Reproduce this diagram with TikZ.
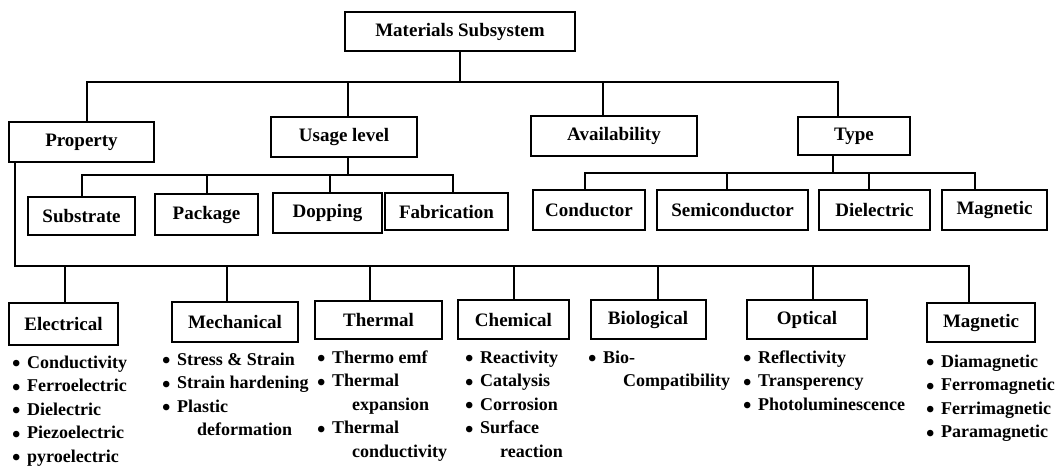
\documentclass[tikz,border=0pt]{standalone}
\usepackage{fontspec}
\setmainfont{Liberation Serif}
\usetikzlibrary{calc}

% text of the bullet lists
\newcommand\listfont{\fontsize{18}{20}\selectfont\bfseries\def\arraystretch{1.175}}
\newcommand\bitem[1]{\makebox[15pt][l]{\raisebox{-3.8pt}{\fontsize{24}{20}\selectfont\textbullet}}#1}
\newcommand\bcont[1]{\hspace{35pt}#1}
\newcommand\itemlist[1]{\begin{tabular}[t]{@{}l@{}}#1\end{tabular}}

\begin{document}
\begin{tikzpicture}[x=1pt,y=-1pt,
  box/.style={draw, line width=2pt, inner sep=0pt, font=\fontsize{19}{22}\selectfont\bfseries},
  conn/.style={line width=2pt},
  listtext/.style={inner sep=0pt, anchor=base west, font=\listfont}]

\useasboundingbox (0,0) rectangle (1060,469);

% top level
\node[box, minimum width=230pt, minimum height=39pt] (root) at (460,31.5) {Materials Subsystem};

\node[box, minimum width=145pt, minimum height=40pt] (prop)  at (81.5,142) {Property};
\node[box, minimum width=146pt, minimum height=40pt] (usage) at (344,137)  {Usage level};
\node[box, minimum width=166pt, minimum height=40pt] (avail) at (614,136)  {Availability};
\node[box, minimum width=112pt, minimum height=38pt] (type)  at (854,136)  {Type};

% usage levels
\node[box, minimum width=107pt, minimum height=38pt] (sub)  at (81.5,216)  {Substrate};
\node[box, minimum width=103pt, minimum height=41pt] (pack) at (206.5,214.5) {Package};
\node[box, minimum width=109pt, minimum height=40pt] (dop)  at (327.5,213) {Dopping};
\node[box, minimum width=123pt, minimum height=37pt] (fab)  at (446.5,211.5) {Fabrication};

% material types
\node[box, minimum width=112pt, minimum height=40pt] (cond) at (589,210)   {Conductor};
\node[box, minimum width=151pt, minimum height=40pt] (semi) at (732.5,210) {Semiconductor};
\node[box, minimum width=111pt, minimum height=40pt] (diel) at (874.5,210) {Dielectric};
\node[box, minimum width=105pt, minimum height=40pt] (tmag) at (994.5,210) {Magnetic};

% properties
\node[box, minimum width=109pt, minimum height=42pt] (elec)  at (63.5,324)  {Electrical};
\node[box, minimum width=126pt, minimum height=40pt] (mech)  at (235,322)   {Mechanical};
\node[box, minimum width=127pt, minimum height=38pt] (therm) at (378.5,320) {Thermal};
\node[box, minimum width=111pt, minimum height=39pt] (chem)  at (513.5,319.5) {Chemical};
\node[box, minimum width=115pt, minimum height=39pt] (bio)   at (648,319.5) {Biological};
\node[box, minimum width=120pt, minimum height=39pt] (opt)   at (807,319.5) {Optical};
\node[box, minimum width=108pt, minimum height=39pt] (pmag)  at (981,322.5) {Magnetic};

% bus lines
\coordinate (busA) at (0,82);
\coordinate (busB) at (0,175);
\coordinate (busC) at (0,173);
\coordinate (busD) at (0,266);

% root to first level
\draw[conn] (root.south) -- (root.south |- busA);
\draw[conn] ([xshift=5.5pt]prop.north) |- ([xshift=-16pt]type.north |- busA) -- ([xshift=-16pt]type.north);
\draw[conn] ([xshift=4pt]usage.north) -- ([xshift=4pt]usage.north |- busA);
\draw[conn] ([xshift=-11pt]avail.north) -- ([xshift=-11pt]avail.north |- busA);

% usage level branch
\draw[conn] ([xshift=4pt]usage.south) -- ([xshift=4pt]usage.south |- busB);
\draw[conn] (sub.north) |- ([xshift=6.5pt]fab.north |- busB) -- ([xshift=6.5pt]fab.north);
\draw[conn] (pack.north) -- (pack.north |- busB);
\draw[conn] ([xshift=2.5pt]dop.north) -- ([xshift=2.5pt]dop.north |- busB);

% type branch
\draw[conn] ([xshift=-21pt]type.south) -- ([xshift=-21pt]type.south |- busC);
\draw[conn] ([xshift=-4pt]cond.north) |- ([xshift=-19.5pt]tmag.north |- busC) -- ([xshift=-19.5pt]tmag.north);
\draw[conn] ([xshift=-5.5pt]semi.north) -- ([xshift=-5.5pt]semi.north |- busC);
\draw[conn] ([xshift=-5.5pt]diel.north) -- ([xshift=-5.5pt]diel.north |- busC);

% property branch
\draw[conn] ([xshift=7pt]prop.south west) |- ([xshift=-12pt]pmag.north |- busD) -- ([xshift=-12pt]pmag.north);
\draw[conn] ([xshift=1.5pt]elec.north) -- ([xshift=1.5pt]elec.north |- busD);
\draw[conn] ([xshift=-8pt]mech.north) -- ([xshift=-8pt]mech.north |- busD);
\draw[conn] ([xshift=-8.5pt]therm.north) -- ([xshift=-8.5pt]therm.north |- busD);
\draw[conn] ([xshift=0.5pt]chem.north) -- ([xshift=0.5pt]chem.north |- busD);
\draw[conn] ([xshift=10pt]bio.north) -- ([xshift=10pt]bio.north |- busD);
\draw[conn] ([xshift=6pt]opt.north) -- ([xshift=6pt]opt.north |- busD);

% property details
\node[listtext] (elecl) at (12,368) {\itemlist{\bitem{Conductivity}\\ \bitem{Ferroelectric}\\ \bitem{Dielectric}\\ \bitem{Piezoelectric}\\ \bitem{pyroelectric}}};
\node[listtext] (mechl) at (162,365) {\itemlist{\bitem{Stress \& Strain}\\ \bitem{Strain hardening}\\ \bitem{Plastic}\\ \bcont{deformation}}};
\node[listtext] (therml) at (317,363) {\itemlist{\bitem{Thermo emf}\\ \bitem{Thermal}\\ \bcont{expansion}\\ \bitem{Thermal}\\ \bcont{conductivity}}};
\node[listtext] (cheml) at (465,363) {\itemlist{\bitem{Reactivity}\\ \bitem{Catalysis}\\ \bitem{Corrosion}\\ \bitem{Surface}\\ \bcont{reaction}}};
\node[listtext] (biol) at (588,363) {\itemlist{\bitem{Bio-}\\ \bcont{Compatibility}}};
\node[listtext] (optl) at (743,363) {\itemlist{\bitem{Reflectivity}\\ \bitem{Transperency}\\ \bitem{Photoluminescence}}};
\node[listtext] (pmagl) at (926,367) {\itemlist{\bitem{Diamagnetic}\\ \bitem{Ferromagnetic}\\ \bitem{Ferrimagnetic}\\ \bitem{Paramagnetic}}};

\end{tikzpicture}
\end{document}
